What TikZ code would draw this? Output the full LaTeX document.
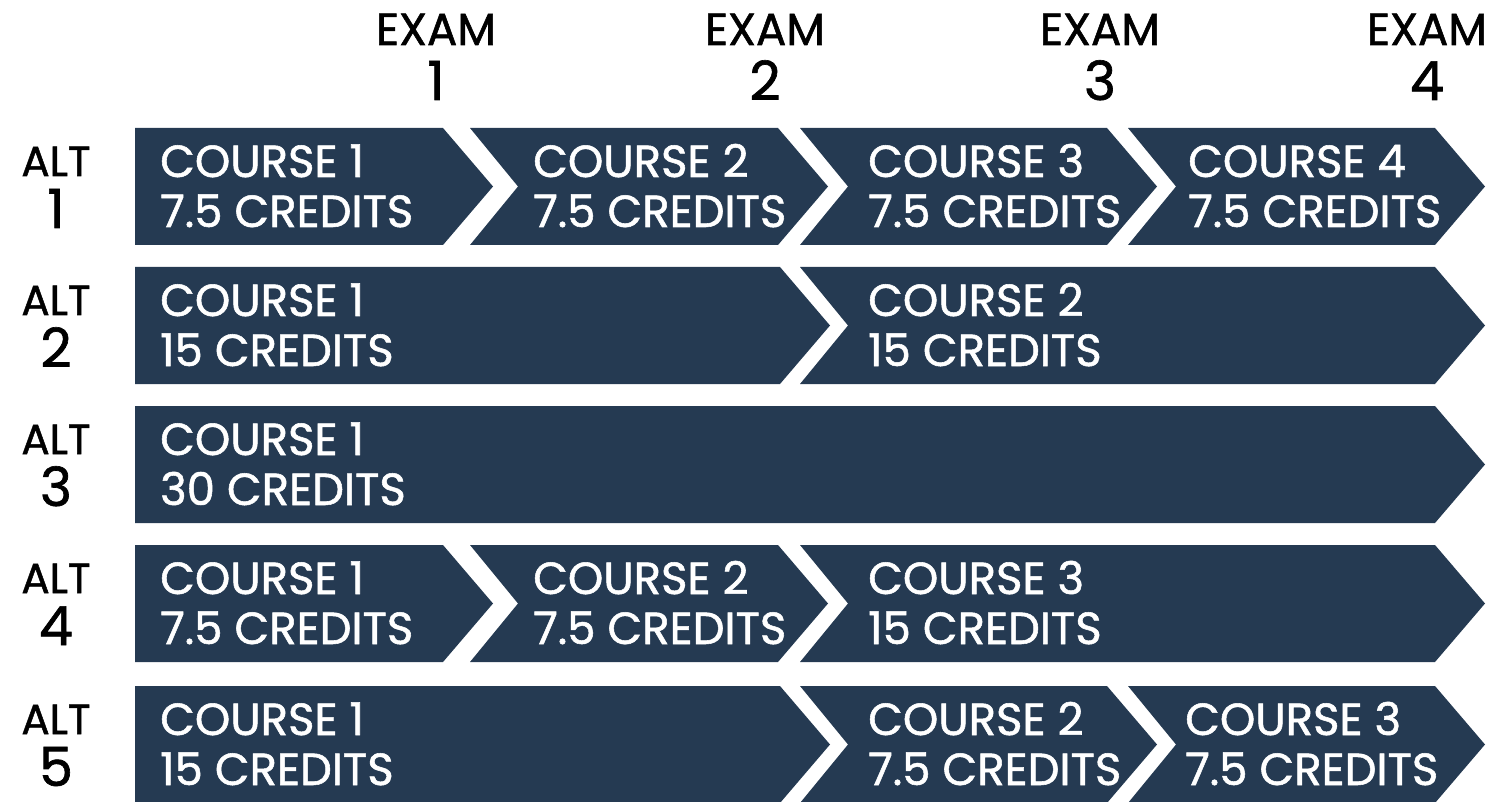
\documentclass[tikz,border=0pt]{standalone}
\usepackage{fontspec}
\setmainfont{Poppins}[FakeBold=1.2]
\definecolor{navy}{HTML}{253A52}
\newcommand\chevA[3]{%
  \fill[navy] (#1,#3) -- (#2,#3) -- (#2+50,#3+58.5) -- (#2,#3+117) -- (#1,#3+117) -- cycle;}
\newcommand\chevB[3]{%
  \fill[navy] (#1,#3) -- (#2,#3) -- (#2+50,#3+58.5) -- (#2,#3+117) -- (#1,#3+117) -- (#1+48,#3+58.5) -- cycle;}
\newcommand\course[5]{%
  \node[ctext] (#1a) at (#2,#3+49) {#4};
  \node[ctext] (#1b) at (#2,#3+99) {#5};}
\newcommand\altlab[3]{%
  \node[lword] (#1w) at (56,#2+48) {ALT};
  \node[lnum] (#1n) at (56,#2+100) {#3};}
\tikzset{
  ctext/.style={anchor=base west, inner sep=0pt, text=white, font=\fontsize{45}{45}\selectfont},
  lword/.style={anchor=base, inner sep=0pt, text=black, font=\fontsize{42}{42}\selectfont},
  lnum/.style={anchor=base, inner sep=0pt, text=black, font=\fontsize{54}{54}\selectfont},
  eword/.style={anchor=base, inner sep=0pt, text=black, font=\fontsize{45}{45}\selectfont},
}
\begin{document}
\begin{tikzpicture}[x=1pt,y=-1pt]
\useasboundingbox (0,0) rectangle (1499,802);
% exam headers
\foreach \x/\n in {436/1,765/2,1100/3,1427/4}{
  \node[eword] (ex\n) at (\x,45) {EXAM};
  \node[lnum] (exn\n) at (\x,100) {\n};
}
% row 1
\altlab{alt1}{128}{1}
\chevA{135}{443}{128}
\chevB{470}{778}{128}
\chevB{800}{1107}{128}
\chevB{1128}{1435}{128}
\course{r1c1}{160}{128}{COURSE 1}{7.5 CREDITS}
\course{r1c2}{533}{128}{COURSE 2}{7.5 CREDITS}
\course{r1c3}{868}{128}{COURSE 3}{7.5 CREDITS}
\course{r1c4}{1188}{128}{COURSE 4}{7.5 CREDITS}
% row 2
\altlab{alt2}{267}{2}
\chevA{135}{780}{267}
\chevB{800}{1435}{267}
\course{r2c1}{160}{267}{COURSE 1}{15 CREDITS}
\course{r2c2}{868}{267}{COURSE 2}{15 CREDITS}
% row 3
\altlab{alt3}{406}{3}
\chevA{135}{1435}{406}
\course{r3c1}{160}{406}{COURSE 1}{30 CREDITS}
% row 4
\altlab{alt4}{545}{4}
\chevA{135}{443}{545}
\chevB{470}{778}{545}
\chevB{800}{1435}{545}
\course{r4c1}{160}{545}{COURSE 1}{7.5 CREDITS}
\course{r4c2}{533}{545}{COURSE 2}{7.5 CREDITS}
\course{r4c3}{868}{545}{COURSE 3}{15 CREDITS}
% row 5
\altlab{alt5}{686}{5}
\chevA{135}{780}{686}
\chevB{800}{1107}{686}
\chevB{1128}{1435}{686}
\course{r5c1}{160}{686}{COURSE 1}{15 CREDITS}
\course{r5c2}{868}{686}{COURSE 2}{7.5 CREDITS}
\course{r5c3}{1185}{686}{COURSE 3}{7.5 CREDITS}
\end{tikzpicture}
\end{document}
